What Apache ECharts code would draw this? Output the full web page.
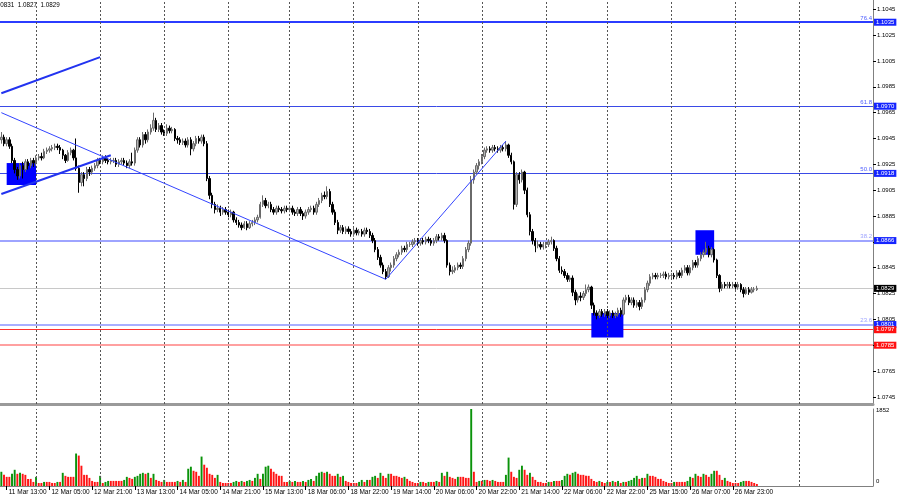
<!DOCTYPE html>
<html><head><meta charset="utf-8">
<script src="https://cdn.jsdelivr.net/npm/echarts@6/dist/echarts.min.js"></script>
<style>html,body{margin:0;padding:0;background:#fff}#c{width:900px;height:500px}</style>
</head><body><div id="c"></div>
<script>
// ---------- data (EURUSD H1) ----------
const openP = [
1.0944,1.0946,1.0941,1.0944,1.0939,1.0928,1.0921,1.0916,1.0924,1.0921,
1.0927,1.0924,1.0928,1.0926,1.0930,1.0931,1.0930,1.0935,1.0936,1.0937,
1.0938,1.0939,1.0938,1.0936,1.0932,1.0928,1.0934,1.0936,1.0930,1.0922,
1.0911,1.0917,1.0914,1.0921,1.0919,1.0922,1.0924,1.0928,1.0927,1.0930,
1.0928,1.0927,1.0928,1.0928,1.0925,1.0927,1.0928,1.0926,1.0924,1.0927,
1.0926,1.0936,1.0944,1.0940,1.0948,1.0944,1.0950,1.0953,1.0959,1.0952,
1.0955,1.0950,1.0949,1.0953,1.0951,1.0952,1.0945,1.0944,1.0942,1.0943,
1.0940,1.0944,1.0937,1.0941,1.0945,1.0943,1.0946,1.0941,1.0914,1.0901,
1.0894,1.0890,1.0891,1.0888,1.0890,1.0888,1.0886,1.0888,1.0882,1.0880,
1.0878,1.0876,1.0879,1.0876,1.0879,1.0880,1.0882,1.0884,1.0894,1.0897,
1.0893,1.0894,1.0890,1.0888,1.0891,1.0890,1.0889,1.0891,1.0890,1.0891,
1.0888,1.0887,1.0890,1.0887,1.0885,1.0888,1.0890,1.0891,1.0888,1.0894,
1.0897,1.0901,1.0900,1.0904,1.0894,1.0888,1.0880,1.0874,1.0876,1.0873,
1.0875,1.0873,1.0871,1.0874,1.0872,1.0873,1.0871,1.0874,1.0873,1.0870,
1.0866,1.0859,1.0853,1.0847,1.0842,1.0838,1.0845,1.0847,1.0852,1.0855,
1.0857,1.0860,1.0859,1.0863,1.0863,1.0865,1.0866,1.0864,1.0866,1.0865,
1.0867,1.0866,1.0864,1.0866,1.0869,1.0868,1.0870,1.0866,1.0847,1.0842,
1.0843,1.0845,1.0847,1.0846,1.0852,1.0859,1.0864,1.0913,1.0919,1.0924,
1.0927,1.0931,1.0936,1.0937,1.0936,1.0938,1.0937,1.0936,1.0938,1.0937,
1.0940,1.0932,1.0927,1.0894,1.0917,1.0913,1.0919,1.0905,1.0886,1.0873,
1.0866,1.0862,1.0863,1.0861,1.0863,1.0863,1.0865,1.0866,1.0860,1.0852,
1.0843,1.0842,1.0839,1.0836,1.0837,1.0826,1.0820,1.0823,1.0822,1.0825,
1.0828,1.0830,1.0816,1.0810,1.0808,1.0811,1.0809,1.0811,1.0808,1.0810,
1.0808,1.0809,1.0812,1.0809,1.0820,1.0822,1.0818,1.0820,1.0816,1.0818,
1.0815,1.0820,1.0828,1.0833,1.0838,1.0839,1.0838,1.0839,1.0839,1.0840,
1.0838,1.0839,1.0839,1.0838,1.0841,1.0839,1.0843,1.0845,1.0841,1.0845,
1.0849,1.0847,1.0852,1.0855,1.0857,1.0860,1.0855,1.0859,1.0851,1.0839,
1.0829,1.0832,1.0831,1.0832,1.0831,1.0832,1.0830,1.0832,1.0828,1.0825,
1.0828,1.0826,1.0828,1.0828];
const highP = [
1.0950,1.0948,1.0946,1.0946,1.0941,1.0930,1.0923,1.0926,1.0927,1.0929,
1.0929,1.0930,1.0930,1.0932,1.0933,1.0934,1.0937,1.0938,1.0939,1.0940,
1.0941,1.0941,1.0940,1.0937,1.0933,1.0936,1.0938,1.0937,1.0945,1.0924,
1.0919,1.0919,1.0923,1.0923,1.0924,1.0926,1.0930,1.0930,1.0932,1.0932,
1.0930,1.0930,1.0930,1.0930,1.0929,1.0930,1.0930,1.0928,1.0929,1.0934,
1.0938,1.0946,1.0946,1.0950,1.0950,1.0952,1.0956,1.0965,1.0961,1.0957,
1.0957,1.0952,1.0956,1.0955,1.0954,1.0953,1.0947,1.0946,1.0945,1.0945,
1.0946,1.0946,1.0943,1.0947,1.0947,1.0948,1.0948,1.0943,1.0916,1.0903,
1.0896,1.0894,1.0893,1.0892,1.0892,1.0890,1.0890,1.0889,1.0884,1.0882,
1.0880,1.0881,1.0881,1.0881,1.0882,1.0884,1.0886,1.0896,1.0901,1.0899,
1.0896,1.0896,1.0892,1.0893,1.0893,1.0892,1.0893,1.0893,1.0893,1.0893,
1.0890,1.0892,1.0892,1.0889,1.0890,1.0892,1.0893,1.0893,1.0896,1.0899,
1.0903,1.0904,1.0908,1.0906,1.0896,1.0890,1.0882,1.0878,1.0878,1.0877,
1.0877,1.0875,1.0876,1.0876,1.0875,1.0875,1.0876,1.0876,1.0875,1.0872,
1.0868,1.0861,1.0855,1.0849,1.0844,1.0847,1.0849,1.0854,1.0857,1.0859,
1.0862,1.0862,1.0865,1.0865,1.0867,1.0868,1.0868,1.0868,1.0868,1.0869,
1.0869,1.0868,1.0868,1.0871,1.0871,1.0872,1.0872,1.0867,1.0849,1.0846,
1.0847,1.0849,1.0849,1.0854,1.0861,1.0866,1.0916,1.0921,1.0926,1.0929,
1.0933,1.0938,1.0939,1.0939,1.0940,1.0940,1.0939,1.0940,1.0940,1.0943,
1.0941,1.0934,1.0928,1.0919,1.0919,1.0921,1.0920,1.0907,1.0888,1.0875,
1.0868,1.0866,1.0865,1.0865,1.0865,1.0867,1.0869,1.0867,1.0862,1.0854,
1.0846,1.0844,1.0841,1.0839,1.0839,1.0828,1.0825,1.0826,1.0827,1.0832,
1.0832,1.0831,1.0818,1.0812,1.0813,1.0813,1.0813,1.0813,1.0812,1.0812,
1.0811,1.0814,1.0814,1.0822,1.0824,1.0824,1.0822,1.0822,1.0820,1.0820,
1.0822,1.0830,1.0835,1.0840,1.0841,1.0841,1.0841,1.0841,1.0842,1.0842,
1.0841,1.0841,1.0841,1.0843,1.0843,1.0845,1.0847,1.0847,1.0847,1.0851,
1.0851,1.0854,1.0857,1.0859,1.0865,1.0862,1.0861,1.0860,1.0852,1.0840,
1.0834,1.0834,1.0834,1.0834,1.0834,1.0834,1.0834,1.0833,1.0830,1.0830,
1.0830,1.0830,1.0830,1.0831];
const lowP = [
1.0941,1.0939,1.0939,1.0937,1.0926,1.0918,1.0913,1.0914,1.0914,1.0919,
1.0921,1.0922,1.0923,1.0924,1.0928,1.0928,1.0929,1.0933,1.0934,1.0935,
1.0936,1.0936,1.0933,1.0929,1.0926,1.0927,1.0932,1.0928,1.0920,1.0903,
1.0908,1.0908,1.0912,1.0916,1.0917,1.0920,1.0922,1.0925,1.0925,1.0926,
1.0925,1.0925,1.0926,1.0923,1.0923,1.0925,1.0924,1.0922,1.0922,1.0924,
1.0924,1.0934,1.0938,1.0938,1.0941,1.0942,1.0948,1.0951,1.0950,1.0950,
1.0948,1.0947,1.0947,1.0949,1.0949,1.0943,1.0941,1.0940,1.0940,1.0938,
1.0938,1.0932,1.0935,1.0939,1.0941,1.0941,1.0939,1.0912,1.0898,1.0891,
1.0887,1.0888,1.0885,1.0886,1.0886,1.0884,1.0884,1.0880,1.0878,1.0876,
1.0874,1.0875,1.0874,1.0875,1.0877,1.0878,1.0880,1.0883,1.0892,1.0891,
1.0891,1.0888,1.0886,1.0886,1.0888,1.0887,1.0887,1.0888,1.0888,1.0886,
1.0885,1.0885,1.0885,1.0882,1.0883,1.0886,1.0888,1.0886,1.0886,1.0892,
1.0895,1.0898,1.0898,1.0892,1.0886,1.0878,1.0871,1.0872,1.0871,1.0871,
1.0871,1.0869,1.0869,1.0870,1.0870,1.0869,1.0869,1.0871,1.0868,1.0864,
1.0857,1.0851,1.0845,1.0840,1.0836,1.0837,1.0842,1.0845,1.0850,1.0853,
1.0855,1.0857,1.0857,1.0861,1.0861,1.0863,1.0862,1.0862,1.0863,1.0863,
1.0864,1.0862,1.0862,1.0864,1.0866,1.0866,1.0864,1.0845,1.0839,1.0840,
1.0841,1.0843,1.0844,1.0844,1.0850,1.0857,1.0862,1.0910,1.0917,1.0921,
1.0925,1.0929,1.0934,1.0934,1.0934,1.0935,1.0934,1.0934,1.0935,1.0935,
1.0930,1.0925,1.0890,1.0892,1.0910,1.0911,1.0902,1.0884,1.0870,1.0863,
1.0857,1.0860,1.0859,1.0859,1.0860,1.0861,1.0863,1.0858,1.0850,1.0841,
1.0840,1.0837,1.0834,1.0834,1.0823,1.0816,1.0818,1.0819,1.0820,1.0823,
1.0826,1.0813,1.0808,1.0805,1.0806,1.0807,1.0807,1.0806,1.0806,1.0806,
1.0806,1.0807,1.0807,1.0808,1.0818,1.0816,1.0816,1.0814,1.0814,1.0812,
1.0813,1.0818,1.0826,1.0831,1.0836,1.0836,1.0836,1.0837,1.0837,1.0836,
1.0836,1.0837,1.0836,1.0836,1.0837,1.0837,1.0841,1.0839,1.0839,1.0843,
1.0845,1.0845,1.0850,1.0853,1.0855,1.0853,1.0853,1.0849,1.0837,1.0826,
1.0827,1.0829,1.0829,1.0829,1.0829,1.0828,1.0828,1.0826,1.0822,1.0824,
1.0824,1.0825,1.0826,1.0827];
const closeP = [
1.0946,1.0941,1.0944,1.0939,1.0928,1.0921,1.0916,1.0924,1.0921,1.0927,
1.0924,1.0928,1.0926,1.0930,1.0931,1.0930,1.0935,1.0936,1.0937,1.0938,
1.0939,1.0938,1.0936,1.0932,1.0928,1.0934,1.0936,1.0930,1.0922,1.0911,
1.0917,1.0914,1.0921,1.0919,1.0922,1.0924,1.0928,1.0927,1.0930,1.0928,
1.0927,1.0928,1.0928,1.0925,1.0927,1.0928,1.0926,1.0924,1.0927,1.0926,
1.0936,1.0944,1.0940,1.0948,1.0944,1.0950,1.0953,1.0959,1.0952,1.0955,
1.0950,1.0949,1.0953,1.0951,1.0952,1.0945,1.0944,1.0942,1.0943,1.0940,
1.0944,1.0937,1.0941,1.0945,1.0943,1.0946,1.0941,1.0914,1.0901,1.0894,
1.0890,1.0891,1.0888,1.0890,1.0888,1.0886,1.0888,1.0882,1.0880,1.0878,
1.0876,1.0879,1.0876,1.0879,1.0880,1.0882,1.0884,1.0894,1.0897,1.0893,
1.0894,1.0890,1.0888,1.0891,1.0890,1.0889,1.0891,1.0890,1.0891,1.0888,
1.0887,1.0890,1.0887,1.0885,1.0888,1.0890,1.0891,1.0888,1.0894,1.0897,
1.0901,1.0900,1.0904,1.0894,1.0888,1.0880,1.0874,1.0876,1.0873,1.0875,
1.0873,1.0871,1.0874,1.0872,1.0873,1.0871,1.0874,1.0873,1.0870,1.0866,
1.0859,1.0853,1.0847,1.0842,1.0838,1.0845,1.0847,1.0852,1.0855,1.0857,
1.0860,1.0859,1.0863,1.0863,1.0865,1.0866,1.0864,1.0866,1.0865,1.0867,
1.0866,1.0864,1.0866,1.0869,1.0868,1.0870,1.0866,1.0847,1.0842,1.0843,
1.0845,1.0847,1.0846,1.0852,1.0859,1.0864,1.0913,1.0919,1.0924,1.0927,
1.0931,1.0936,1.0937,1.0936,1.0938,1.0937,1.0936,1.0938,1.0937,1.0940,
1.0932,1.0927,1.0894,1.0917,1.0913,1.0919,1.0905,1.0886,1.0873,1.0866,
1.0862,1.0863,1.0861,1.0863,1.0863,1.0865,1.0866,1.0860,1.0852,1.0843,
1.0842,1.0839,1.0836,1.0837,1.0826,1.0820,1.0823,1.0822,1.0825,1.0828,
1.0830,1.0816,1.0810,1.0808,1.0811,1.0809,1.0811,1.0808,1.0810,1.0808,
1.0809,1.0812,1.0809,1.0820,1.0822,1.0818,1.0820,1.0816,1.0818,1.0815,
1.0820,1.0828,1.0833,1.0838,1.0839,1.0838,1.0839,1.0839,1.0840,1.0838,
1.0839,1.0839,1.0838,1.0841,1.0839,1.0843,1.0845,1.0841,1.0845,1.0849,
1.0847,1.0852,1.0855,1.0857,1.0860,1.0855,1.0859,1.0851,1.0839,1.0829,
1.0832,1.0831,1.0832,1.0831,1.0832,1.0830,1.0832,1.0828,1.0825,1.0828,
1.0826,1.0828,1.0828,1.0829];
const volume = [
342,268,220,220,293,390,293,317,293,268,
171,171,98,220,73,73,98,98,98,73,
73,98,98,317,244,220,220,220,781,732,
488,268,268,195,122,98,98,244,73,98,
122,122,122,122,122,122,146,220,195,171,
220,244,293,317,293,317,195,293,146,122,
98,146,98,98,98,98,122,98,146,98,
415,464,366,342,244,708,512,439,293,268,
195,268,98,73,73,73,73,98,122,98,
122,98,122,146,122,195,293,171,293,464,
488,415,342,293,244,244,98,98,122,98,
122,98,98,122,98,146,171,122,244,317,
342,317,342,293,244,244,293,220,244,122,
98,73,73,73,98,146,98,146,146,220,
244,195,317,244,195,293,293,244,244,220,
195,220,171,122,98,73,73,98,98,73,
98,98,98,122,98,317,244,342,220,195,
171,220,220,220,195,195,1852,342,98,122,
122,146,146,122,146,122,98,98,98,268,
683,342,220,195,390,488,390,268,317,220,
146,98,98,73,73,98,98,122,122,122,
146,244,293,268,317,342,293,268,268,244,
244,171,122,98,122,98,73,98,98,122,
98,122,73,98,98,122,146,195,244,171,
195,195,293,244,244,220,171,171,122,98,
73,73,98,98,98,98,98,122,220,195,
293,244,220,293,268,220,293,366,366,268,
146,195,122,98,73,73,73,98,122,122,
122,98,73,49];

// trading days on the time axis: [day, first hour, last hour]
const tradingDays = [
  ['11 Mar',11,23],['12 Mar',0,23],['13 Mar',0,23],['14 Mar',0,23],['15 Mar',0,22],
  ['18 Mar',0,23],['19 Mar',0,23],['20 Mar',0,23],['21 Mar',0,23],['22 Mar',0,22],
  ['25 Mar',0,23],['26 Mar',0,23],['27 Mar',0,23],['28 Mar',0,23]
];
const blankSlots = 4;
const timeTicks = ['11 Mar 13:00','12 Mar 05:00','12 Mar 21:00','13 Mar 13:00','14 Mar 05:00',
  '14 Mar 21:00','15 Mar 13:00','18 Mar 06:00','18 Mar 22:00','19 Mar 14:00','20 Mar 06:00',
  '20 Mar 22:00','21 Mar 14:00','22 Mar 06:00','22 Mar 22:00','25 Mar 15:00','26 Mar 07:00','26 Mar 23:00'];
const priceTicks = [1.1045,1.1025,1.1005,1.0985,1.0965,1.0945,1.0925,1.0905,1.0885,1.0865,
  1.0845,1.0825,1.0805,1.0785,1.0765,1.0745];
const priceMin = 1.07395, priceMax = 1.10522;

const fibLevels = [1.1035, 1.0970, 1.0918, 1.0866, 1.0801];
const fibNames  = ['76.4', '61.8', '50.0', '38.2', '23.6'];
const redLevels = [1.0797, 1.0785];
// trend lines: [[bar, price],[bar, price]]
const trendLines = [
  [[0,1.0980],[37,1.1008]],
  [[0,1.0902],[41,1.0932]],
  [[0,1.0965],[144,1.0836]],
  [[144,1.0836],[189,1.0943]]
];
// rectangles: [[bar, price],[bar, price]]
const boxes = [
  [[2,1.0926],[13,1.0909]],
  [[221,1.0810],[233,1.0791]],
  [[260,1.0874],[267,1.0855]]
];

// ---------- build ----------
const cats = [];
tradingDays.forEach(([d,h0,h1]) => { for (let h=h0; h<=h1; h++) cats.push(d+' '+String(h).padStart(2,'0')+':00'); });
for (let i=0;i<blankSlots;i++) cats.push('');
const tickSet = new Set(timeTicks);
const dayStarts = cats.filter(c => c.endsWith(' 00:00'));

const n = closeP.length;
const candles = closeP.map((c,i) => [openP[i], c, lowP[i], highP[i]]);
const volMax = Math.max(...volume);
const volData = volume.map((v,i) => ({value:v, itemStyle:{color: (i===0 || v>volume[i-1]) ? '#0a930a' : '#ff1414'}}));
const last = n-1;
const headerText = [highP[last], lowP[last], closeP[last]].map(v=>v.toFixed(4)).join('  ');

const FONT = 'Liberation Sans';
const fibLine = [
  {color:'#2b3cff', width:2, type:'solid'},{color:'#3a4ae6', width:1, type:'solid'},{color:'#3a4ae6', width:1, type:'solid'},
  {color:'#9ea4ff', width:2, type:'solid'},{color:'#a9aeff', width:2, type:'solid'}];
const fibText = ['#4d5cff','#4d5cff','#4d5cff','#9da3ff','#9da3ff'];
const redLine = [{color:'#ff3030', width:1, type:'solid'},{color:'#ffa0a0', width:2, type:'solid'}];

function boxLabel(v,bg){
  return {show:true, position:'end', distance:1, formatter:v.toFixed(4), color:'#fff',
    backgroundColor:bg, padding:[1,2,0,2], fontSize:6, fontFamily:FONT};
}
const dayLineStyle = {type:[2,2], color:'#555', width:1};

// horizontal levels (behind rectangles)
const levelData = [];
fibLevels.forEach((v,i) => {
  levelData.push({yAxis:v, lineStyle:fibLine[i], label:boxLabel(v,'#1424ff')});
  levelData.push({yAxis:v, lineStyle:{color:'rgba(255,255,255,0)', width:1, type:'solid'},
    label:{show:true, position:'insideEndTop', distance:1,
    formatter:fibNames[i], color:fibText[i], fontSize:6, fontFamily:FONT}});
});
levelData.push({yAxis:closeP[last], lineStyle:{color:'#c8c8c8', width:1, type:'solid'}, label:boxLabel(closeP[last],'#000')});
redLevels.forEach((v,i) => levelData.push({yAxis:v, lineStyle:redLine[i], label:boxLabel(v,'#ff1010')}));

const trendData = trendLines.map((t,i) => [
  {coord:[cats[t[0][0]], t[0][1]], lineStyle: i<2 ? {color:'#2233f0', width:2, type:'solid'} : {color:'#3344ff', width:1, type:'solid'}},
  {coord:[cats[t[1][0]], t[1][1]]}
]);
const dayData = dayStarts.map(c => ({xAxis:c, lineStyle:dayLineStyle, label:{show:false}}));
const maData = boxes.map(b => [{coord:[cats[b[0][0]], b[0][1]]},{coord:[cats[b[1][0]], b[1][1]]}]);

const helper = (extra) => Object.assign({type:'line', xAxisIndex:0, yAxisIndex:0, data:[], silent:true, symbol:'none'}, extra);

const chart = echarts.init(document.getElementById('c'), null, {renderer:'canvas'});
chart.setOption({
  animation:false,
  backgroundColor:'#fff',
  textStyle:{fontFamily:FONT},
  graphic:[{type:'text', x:-5, y:2, style:{text:headerText, fontSize:6.3, fontFamily:FONT, fill:'#000'}}],
  grid:[
    {left:0, right:27, top:0, height:404, containLabel:false, outerBoundsMode:'none'},
    {left:0, right:27, top:409, height:77, containLabel:false, outerBoundsMode:'none'}
  ],
  xAxis:[
    {type:'category', gridIndex:0, data:cats, boundaryGap:true,
     axisLine:{show:true, onZero:false, lineStyle:{color:'#9a9a9a', width:3}},
     axisTick:{show:false}, axisLabel:{show:false}, splitLine:{show:false}},
    {type:'category', gridIndex:1, data:cats, boundaryGap:true,
     axisLine:{show:true, onZero:false, lineStyle:{color:'#808080', width:1}},
     axisTick:{show:true, alignWithLabel:true, interval:(i,v)=>tickSet.has(v), length:4, lineStyle:{color:'#000'}},
     axisLabel:{interval:(i,v)=>tickSet.has(v), align:'left', margin:3, padding:[0,0,0,2],
       fontSize:6.5, color:'#000', fontFamily:FONT},
     splitLine:{show:false}}
  ],
  yAxis:[
    {type:'value', gridIndex:0, position:'right', min:priceMin, max:priceMax, scale:true,
     axisLine:{show:true, lineStyle:{color:'#808080', width:1}},
     axisTick:{show:true, customValues:priceTicks, length:3, lineStyle:{color:'#000'}},
     axisLabel:{show:true, customValues:priceTicks, formatter:v=>v.toFixed(4), fontSize:6, margin:4, color:'#000', fontFamily:FONT},
     splitLine:{show:false}},
    {type:'value', gridIndex:1, position:'right', min:0, max:volMax,
     axisLine:{show:true, lineStyle:{color:'#808080', width:1}},
     axisTick:{show:false},
     axisLabel:{show:true, customValues:[0, volMax], margin:3, fontSize:6, color:'#000', fontFamily:FONT,
       formatter:v => v===0 ? '{b|0}' : '{t|'+v+'}',
       rich:{b:{fontSize:6, padding:[0,0,9,0]}, t:{fontSize:6, padding:[2,0,0,0]}}},
     splitLine:{show:false}}
  ],
  series:[
    helper({z:1, markLine:{z:1, silent:true, symbol:['none','none'], animation:false, precision:4, data:levelData}}),
    helper({z:2, markArea:{z:2, silent:true, itemStyle:{color:'#0000ff', opacity:1}, data:maData}}),
    helper({z:3, markLine:{z:3, silent:true, symbol:['none','none'], animation:false, data:dayData}}),
    {type:'candlestick', xAxisIndex:0, yAxisIndex:0, data:candles, barWidth:'70%', z:10,
     itemStyle:{color:'#b4b4b4', color0:'#000', borderColor:'#6a6a6a', borderColor0:'#000', borderWidth:1}},
    helper({z:11, markLine:{z:11, silent:true, symbol:['none','none'], animation:false, data:trendData}}),
    {type:'bar', xAxisIndex:1, yAxisIndex:1, data:volData, barWidth:'72%',
     markLine:{silent:true, symbol:['none','none'], animation:false, data:dayData}}
  ]
});
</script>
</body></html>
